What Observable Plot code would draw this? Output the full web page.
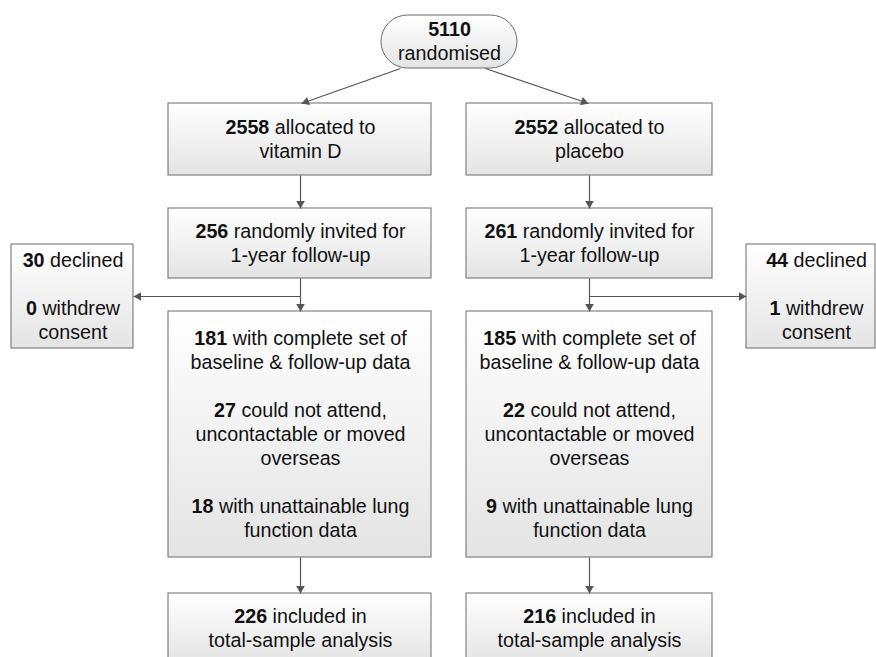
<!DOCTYPE html>
<html><head><meta charset="utf-8">
<script src="https://cdn.jsdelivr.net/npm/d3@7"></script>
<script src="https://cdn.jsdelivr.net/npm/@observablehq/plot@0.6"></script>
<style>html,body{margin:0;padding:0;background:#fff;}#chart svg{display:block;}</style>
</head><body><div id="chart"></div>
<script>
// ---------- values ----------
const armNames = ["vitamin D", "placebo"];
const randomised = 5110;
const allocated = [2558, 2552];
const invited = [256, 261];
const declined = [30, 44];
const withdrew = [0, 1];
const completeData = [181, 185];
const couldNotAttend = [27, 22];
const unattainableLung = [18, 9];
const included = [226, 216];

// ---------- layout (diagram units, y grows downward) ----------
const cols = [{cx: 300, x1: 168, x2: 431}, {cx: 589, x1: 466, x2: 712}];
const sideCols = [{x1: 11, x2: 133, tx: 72.5, edge: 133}, {x1: 746, x2: 875, tx: 816, edge: 746}];
const rows = {rand: [15, 68], alloc: [103, 175], invite: [208, 278], side: [244, 348], detail: [311, 557], incl: [593, 663]};
const randBox = {x1: 381, x2: 517, tx: 449, rx: 26.5};
const branchY = 296;
const lineStep = 24;
const fontSize = 19.7;

// ---------- build nodes ----------
const nodes = [];
nodes.push({x1: randBox.x1, x2: randBox.x2, y1: rows.rand[0], y2: rows.rand[1], tx: randBox.tx, rounded: true,
  paras: [[`${randomised}`, "randomised"]]});
[0, 1].forEach(i => {
  const c = cols[i], s = sideCols[i];
  nodes.push({x1: c.x1, x2: c.x2, y1: rows.alloc[0], y2: rows.alloc[1], tx: c.cx,
    paras: [[`${allocated[i]} allocated to`, armNames[i]]]});
  nodes.push({x1: c.x1, x2: c.x2, y1: rows.invite[0], y2: rows.invite[1], tx: c.cx,
    paras: [[`${invited[i]} randomly invited for`, "1-year follow-up"]]});
  nodes.push({x1: s.x1, x2: s.x2, y1: rows.side[0], y2: rows.side[1], tx: s.tx,
    paras: [[`${declined[i]} declined`], [`${withdrew[i]} withdrew`, "consent"]]});
  nodes.push({x1: c.x1, x2: c.x2, y1: rows.detail[0], y2: rows.detail[1], tx: c.cx,
    paras: [[`${completeData[i]} with complete set of`, "baseline & follow-up data"],
            [`${couldNotAttend[i]} could not attend,`, "uncontactable or moved", "overseas"],
            [`${unattainableLung[i]} with unattainable lung`, "function data"]]});
  nodes.push({x1: c.x1, x2: c.x2, y1: rows.incl[0], y2: rows.incl[1], tx: c.cx,
    paras: [[`${included[i]} included in`, "total-sample analysis"]]});
});

// text lines
const lines = [];
nodes.forEach(n => {
  const flat = [];
  n.paras.forEach((p, pi) => {
    if (pi > 0) flat.push(null);
    p.forEach((t, li) => flat.push({text: t, lead: li === 0}));
  });
  const cy = (n.y1 + n.y2) / 2;
  flat.forEach((l, i) => {
    if (!l) return;
    lines.push({x: n.tx, y: cy + (i - (flat.length - 1) / 2) * lineStep, text: l.text, lead: l.lead});
  });
});
const leadTexts = new Set(lines.filter(d => d.lead).map(d => d.text));

// edges
const edges = [
  {x1: 400, y1: rows.rand[1], x2: cols[0].cx + 1, y2: rows.alloc[0]},
  {x1: 485, y1: rows.rand[1], x2: cols[1].cx - 1, y2: rows.alloc[0]}
];
[0, 1].forEach(i => {
  const c = cols[i], s = sideCols[i];
  edges.push({x1: c.cx, y1: rows.alloc[1], x2: c.cx, y2: rows.invite[0]});
  edges.push({x1: c.cx, y1: rows.invite[1], x2: c.cx, y2: rows.detail[0]});
  edges.push({x1: c.cx, y1: branchY, x2: s.edge, y2: branchY});
  edges.push({x1: c.cx, y1: rows.detail[1], x2: c.cx, y2: rows.incl[0]});
});
const headTip = 5;
const heads = edges.map(e => {
  const dx = e.x2 - e.x1, dy = e.y2 - e.y1, L = Math.hypot(dx, dy);
  return {x: e.x2 - dx / L * headTip, y: e.y2 - dy / L * headTip, rotate: Math.atan2(dx, -dy) * 180 / Math.PI};
});

const boxStroke = "#6b6b6b";
const arrowColor = "#555";

const plot = Plot.plot({
  width: 876, height: 657, margin: 0,
  x: {domain: [0, 876], range: [0, 876], axis: null},
  y: {domain: [0, 657], range: [0, 657], axis: null},
  style: {background: "#fff", fontFamily: '"Liberation Sans", Arial, sans-serif'},
  marks: [
    Plot.rect(nodes.filter(d => !d.rounded), {x1: "x1", x2: "x2", y1: "y1", y2: "y2",
      fill: "url(#boxGrad)", stroke: boxStroke, strokeWidth: 1}),
    Plot.rect(nodes.filter(d => d.rounded), {x1: "x1", x2: "x2", y1: "y1", y2: "y2", rx: randBox.rx,
      fill: "url(#boxGrad)", stroke: boxStroke, strokeWidth: 1}),
    Plot.link(edges, {x1: "x1", y1: "y1", x2: "x2", y2: "y2", stroke: arrowColor, strokeWidth: 1.2}),
    Plot.dot(heads, {x: "x", y: "y", rotate: "rotate", symbol: "triangle", r: 3.2, fill: arrowColor, stroke: "none"}),
    Plot.text(lines, {x: "x", y: "y", text: "text", fontSize, fill: "#111", textAnchor: "middle", lineAnchor: "middle"})
  ]
});

const ns = "http://www.w3.org/2000/svg";
const defs = document.createElementNS(ns, "defs");
defs.innerHTML = '<linearGradient id="boxGrad" x1="0" y1="0" x2="0" y2="1"><stop offset="0" stop-color="#ffffff"/><stop offset="1" stop-color="#e4e4e4"/></linearGradient>';
plot.insertBefore(defs, plot.firstChild);

// bold the leading count of each paragraph
plot.querySelectorAll("text").forEach(t => {
  const s = t.textContent;
  if (!leadTexts.has(s)) return;
  const m = s.match(/^(\S+)(.*)$/);
  if (!m) return;
  while (t.firstChild) t.removeChild(t.firstChild);
  const b = document.createElementNS(ns, "tspan");
  b.setAttribute("font-weight", "bold");
  b.textContent = m[1];
  t.appendChild(b);
  if (m[2]) t.appendChild(document.createTextNode(m[2]));
});

document.getElementById("chart").appendChild(plot);
</script>
</body></html>
